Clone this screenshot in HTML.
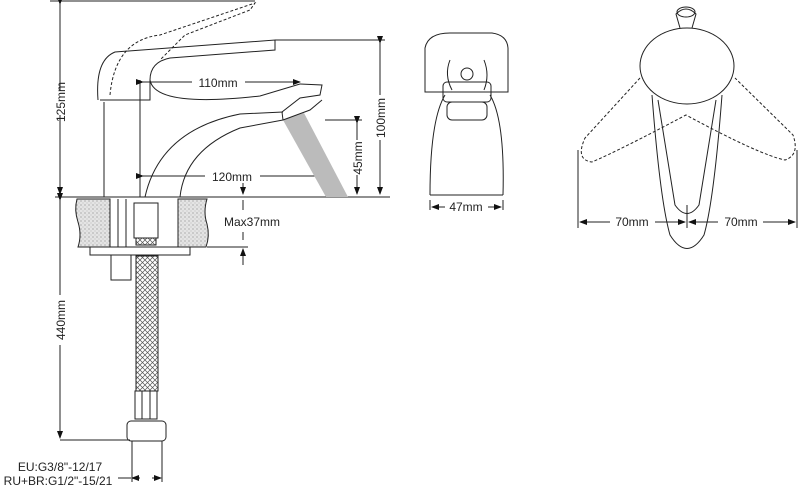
<!DOCTYPE html>
<html><head><meta charset="utf-8"><style>
html,body{margin:0;padding:0;background:#fff;width:800px;height:487px;overflow:hidden}
svg{display:block}
text{font-family:"Liberation Sans",sans-serif;font-size:12px;fill:#222}
</style></head><body>
<svg width="800" height="487" viewBox="0 0 800 487" xmlns="http://www.w3.org/2000/svg">
<defs>
<pattern id="dots" width="4" height="4" patternUnits="userSpaceOnUse"><rect width="4" height="4" fill="#e4e4e4"/><circle cx="1" cy="1" r="0.6" fill="#888"/><circle cx="3" cy="3" r="0.5" fill="#aaa"/></pattern>
<pattern id="mesh" width="5" height="5" patternUnits="userSpaceOnUse"><rect width="5" height="5" fill="#fff"/><path d="M0 0L5 5M5 0L0 5" stroke="#555" stroke-width="0.7"/></pattern>
<marker id="a" markerWidth="8" markerHeight="8" refX="7" refY="4" orient="auto" markerUnits="userSpaceOnUse"><path d="M0 1L8 4L0 7z" fill="#111"/></marker>
</defs>
<g stroke="#222" stroke-width="1" fill="none">
<line x1="50" y1="1" x2="255" y2="1"/>
<line x1="60" y1="4" x2="60" y2="90" marker-start="url(#a)"/>
<line x1="60" y1="115" x2="60" y2="194" marker-end="url(#a)"/>
<line x1="55" y1="197" x2="390" y2="197"/>
<line x1="60" y1="200" x2="60" y2="295" marker-start="url(#a)"/>
<line x1="60" y1="345" x2="60" y2="438" marker-end="url(#a)"/>
<line x1="60" y1="440" x2="130" y2="440"/>
<line x1="275" y1="40" x2="385" y2="40"/>
<line x1="380" y1="43" x2="380" y2="95" marker-start="url(#a)"/>
<line x1="380" y1="140" x2="380" y2="194" marker-end="url(#a)"/>
<line x1="325" y1="120" x2="362" y2="120"/>
<line x1="357" y1="123" x2="357" y2="140" marker-start="url(#a)"/>
<line x1="357" y1="175" x2="357" y2="194" marker-end="url(#a)"/>
<line x1="140" y1="80" x2="140" y2="197"/>
<line x1="143" y1="82" x2="192" y2="82" marker-start="url(#a)"/>
<line x1="245" y1="82" x2="300" y2="82" marker-end="url(#a)"/>
<line x1="143" y1="176" x2="205" y2="176" marker-start="url(#a)"/>
<line x1="260" y1="176" x2="326" y2="176" marker-end="url(#a)"/>
<line x1="327" y1="170" x2="327" y2="197"/>
<line x1="243" y1="183" x2="243" y2="194" marker-end="url(#a)"/>
<line x1="243" y1="200" x2="243" y2="210"/>
<line x1="243" y1="232" x2="243" y2="240"/>
<line x1="243" y1="265" x2="243" y2="249" marker-end="url(#a)"/>
<line x1="207" y1="247" x2="248" y2="247"/>
<polygon points="283,120 304,113 348,197 326,197" fill="#bbb" stroke="none"/>
<path d="M104 197 L104 102 M145 197 Q160 130 240 114 L283 112 M180 197 Q185 150 240 128 L283 120"/>
<path d="M98 100 Q95 60 115 52 L275 40 L275 50 L170 58 Q150 62 150 80 Q155 108 260 96 L300 84"/>
<path d="M100 100 L150 100 L150 80"/>
<path d="M283 120 L282 112 L300 98 L320 95 L322 85 L300 84 M283 120 L310 110 L322 100"/>
<path d="M110 95 Q115 40 160 35 L255 3 L250 10 L185 35 L160 60" stroke-dasharray="3,2"/>
<path d="M77 199 L110 199 L110 247 L78 247 Q82 235 78 222 Q74 210 77 199Z" fill="url(#dots)"/>
<path d="M178 199 L207 199 Q203 212 207 224 Q210 236 206 247 L178 247Z" fill="url(#dots)"/>
<line x1="118" y1="199" x2="118" y2="247"/><line x1="126" y1="199" x2="126" y2="247"/>
<rect x="90" y="247" width="100" height="8"/>
<rect x="111" y="255" width="20" height="25"/>
<rect x="134" y="203" width="24" height="35"/>
<rect x="136" y="238" width="20" height="7" fill="url(#mesh)"/>
<rect x="136" y="256" width="22" height="135" fill="url(#mesh)"/>
<rect x="135" y="391" width="22" height="28"/>
<path d="M142 391V419M150 391V419"/>
<rect x="127" y="421" width="39" height="20" rx="4"/>
<line x1="132" y1="441" x2="132" y2="482"/><line x1="162" y1="441" x2="162" y2="482"/>
<line x1="118" y1="478" x2="131" y2="478"/>
<line x1="140" y1="478" x2="132" y2="478" marker-end="url(#a)"/>
<line x1="152" y1="478" x2="161" y2="478" marker-end="url(#a)"/>
<path d="M425 92 L425 48 Q428 33 450 33 L492 33 Q507 35 508 48 L508 92 Z"/>
<path d="M450 60 Q444 75 452 90 M484 60 Q490 75 484 90"/>
<circle cx="467" cy="74" r="6"/>
<rect x="443" y="82" width="48" height="20" rx="4"/>
<rect x="447" y="102" width="40" height="18" rx="5"/>
<path d="M430 195 Q430 120 445 95 M503 195 Q505 120 490 95 M430 195 L503 195"/>
<line x1="430" y1="200" x2="430" y2="210"/><line x1="503" y1="200" x2="503" y2="210"/>
<line x1="445" y1="207" x2="432" y2="207" marker-end="url(#a)"/>
<line x1="488" y1="207" x2="501" y2="207" marker-end="url(#a)"/>
<ellipse cx="687" cy="66" rx="47" ry="38"/>
<path d="M680 28 L676 14 Q686 4 696 14 L692 28"/>
<ellipse cx="686" cy="12" rx="9" ry="5"/>
<path d="M652 95 Q660 200 670 235 Q687 262 704 235 Q714 200 722 95"/>
<path d="M658 100 L675 205 Q687 222 699 205 L716 100"/>
<path d="M640 78 L585 138 Q575 160 592 162 Q620 150 686 115 Q760 155 785 160 Q800 155 793 135 L735 78" stroke-dasharray="3,2"/>
<line x1="578" y1="150" x2="578" y2="228"/><line x1="797" y1="150" x2="797" y2="228"/>
<line x1="687" y1="205" x2="687" y2="228"/>
<line x1="610" y1="222" x2="580" y2="222" marker-end="url(#a)"/>
<line x1="655" y1="222" x2="685" y2="222" marker-end="url(#a)"/>
<line x1="718" y1="222" x2="689" y2="222" marker-end="url(#a)"/>
<line x1="763" y1="222" x2="795" y2="222" marker-end="url(#a)"/>
</g>
<text x="0" y="0" transform="translate(65,102) rotate(-90)" text-anchor="middle">125mm</text>
<text x="0" y="0" transform="translate(65,320) rotate(-90)" text-anchor="middle">440mm</text>
<text x="0" y="0" transform="translate(385,118) rotate(-90)" text-anchor="middle">100mm</text>
<text x="0" y="0" transform="translate(362,158) rotate(-90)" text-anchor="middle">45mm</text>
<text x="218" y="87" text-anchor="middle">110mm</text>
<text x="232" y="181" text-anchor="middle">120mm</text>
<text x="252" y="226" text-anchor="middle">Max37mm</text>
<text x="466" y="211" text-anchor="middle">47mm</text>
<text x="632" y="226" text-anchor="middle">70mm</text>
<text x="741" y="226" text-anchor="middle">70mm</text>
<text x="60" y="471" text-anchor="middle">EU:G3/8"-12/17</text>
<text x="58" y="485" text-anchor="middle">RU+BR:G1/2"-15/21</text>
</svg>
</body></html>
